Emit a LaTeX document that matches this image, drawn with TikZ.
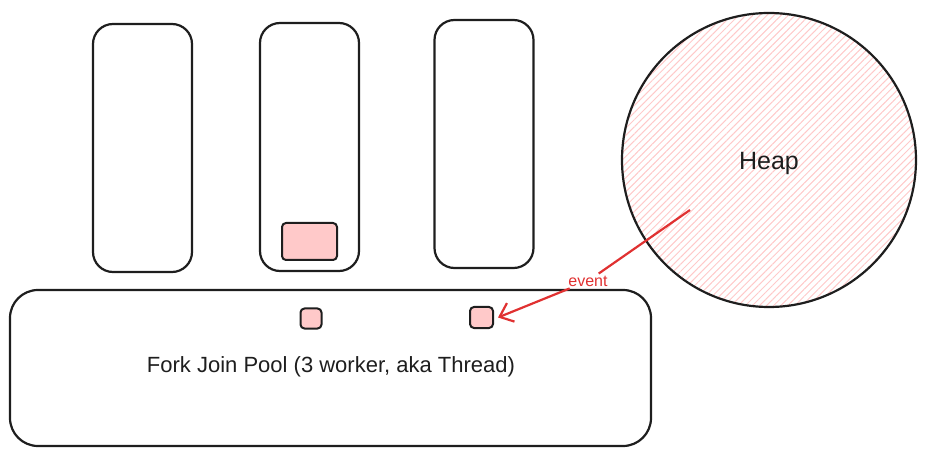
\documentclass[tikz,border=0pt]{standalone}
\usepackage{fontspec}
\setmainfont{Liberation Sans}
\usetikzlibrary{arrows.meta,patterns.meta}
\definecolor{exred}{HTML}{E03131}
\definecolor{expink}{HTML}{FFC9C9}
\definecolor{exink}{HTML}{1E1E1E}
\tikzset{
  colbox/.style={draw=exink,line width=2.2pt,rounded corners=20pt,minimum width=99pt,minimum height=248pt,inner sep=0pt},
  poolbox/.style={draw=exink,line width=2.2pt,rounded corners=28pt,minimum width=641pt,minimum height=156pt,inner sep=0pt},
  task/.style={draw=exink,line width=2pt,fill=expink,rounded corners=4pt,inner sep=0pt},
  lbl/.style={text=exink,font=\fontsize{22}{26}\selectfont},
  heaplbl/.style={text=exink,font=\fontsize{25}{30}\selectfont},
  evlbl/.style={text=exred,font=\fontsize{16}{18}\selectfont,inner sep=2pt},
  evarrow/.style={draw=exred,line width=2.2pt,-{Straight Barb[length=12pt,width=20pt,line width=2.2pt]}}
}
\begin{document}
\begin{tikzpicture}[x=1pt,y=-1pt]
\useasboundingbox (0,0) rectangle (927,457);
% heap
\node[circle,minimum size=294pt,inner sep=0pt,draw=exink,line width=2.2pt,
  pattern={Lines[angle=45,distance=5pt,line width=1pt]},pattern color=expink] (heap) at (769,160) {};
\node[heaplbl] (heaptxt) at (769,163) {Heap};
% worker columns
\node[colbox] (w1) at (142.5,148) {};
\node[colbox] (w2) at (309.5,147) {};
\node[colbox] (w3) at (484,144) {};
\node[task,minimum width=55pt,minimum height=37pt] (t0) at (309.5,241.5) {};
% pool
\node[poolbox] (pool) at (330.5,368) {};
\node[lbl] (pooltxt) at (331,367) {Fork Join Pool (3 worker, aka Thread)};
\node[task,minimum width=21pt,minimum height=20pt] (t1) at (311,318.5) {};
\node[task,minimum width=23pt,minimum height=21pt] (t2) at (481.5,317.5) {};
% event arrow
\coordinate (src) at (690,210);
\node[evlbl] (evtxt) at (588,281) {event};
\draw[evarrow] (src) -- (evtxt) -- ([xshift=4pt]t2.east);
\end{tikzpicture}
\end{document}
